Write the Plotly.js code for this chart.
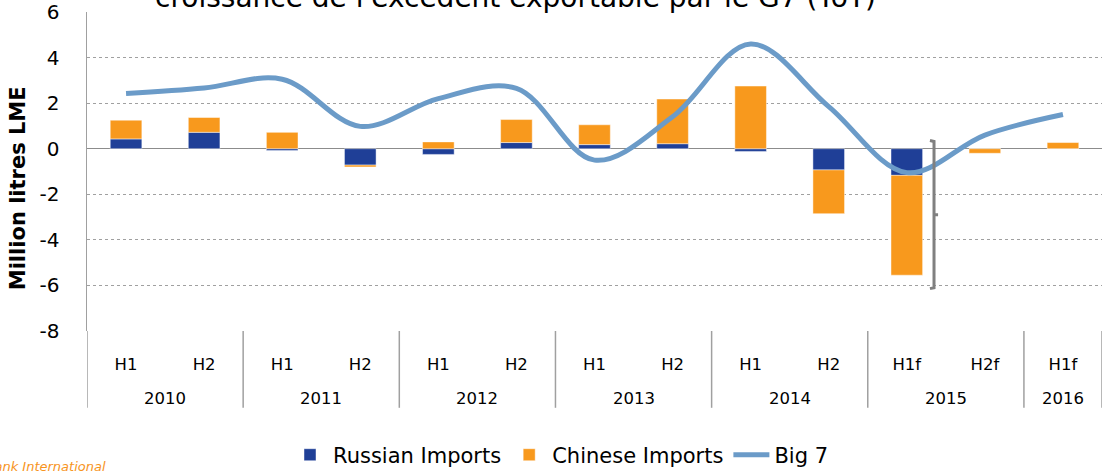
<!DOCTYPE html>
<html>
<head>
<meta charset="utf-8">
<script src="https://cdn.plot.ly/plotly-3.0.1.min.js"></script>
<style>html,body{margin:0;padding:0;background:#fff;}#chart{width:1102px;height:476px;}</style>
</head>
<body>
<div id="chart"></div>
<script>
const years   = ['2010','2010','2011','2011','2012','2012','2013','2013','2014','2014','2015','2015','2016'];
const halves  = ['H1','H2','H1','H2','H1','H2','H1','H2','H1','H2','H1f','H2f','H1f'];
const russianImports = [0.43, 0.72, -0.08, -0.72, -0.25, 0.27, 0.18, 0.22, -0.12, -0.93, -1.17, 0, 0];
const chineseImports = [0.82, 0.65, 0.72, -0.08, 0.30, 1.01, 0.87, 1.96, 2.75, -1.92, -4.38, -0.20, 0.27];
const big7 = [2.42, 2.66, 3.05, 0.98, 2.2, 2.65, -0.5, 1.4, 4.6, 1.85, -1.05, 0.6, 1.5];
const yTickVals = [-8, -6, -4, -2, 0, 2, 4, 6];
const yTickText = ['-8', '-6', '-4', '-2', '0', '2', '4', '6'];

const titleText = "croissance de l'excédent exportable par le G7 (YoY)";
const yTitleText = 'Million litres LME';
const sourceText = 'Rabobank International';

const FONT = 'DejaVu Sans, Verdana, sans-serif';
const PLOT_L = 87, PLOT_B = 336, PLOT_H = 324, PLOT_W = 1015;
const px2py = p => (PLOT_B - p) / PLOT_H;   // pixel row -> paper y
const px2px = p => (p - PLOT_L) / PLOT_W;   // pixel col -> paper x

const idx = halves.map((_, i) => i);

// year groups
const groups = [];
years.forEach((y, i) => {
  const g = groups[groups.length - 1];
  if (g && g.year === y) g.end = i; else groups.push({year: y, start: i, end: i});
});

const traces = [
  {type:'bar', name:'Russian Imports', x:idx, y:russianImports,
   marker:{color:'#1f3f97', line:{color:'rgba(255,255,255,0.45)', width:1}}},
  {type:'bar', name:'Chinese Imports', x:idx, y:chineseImports,
   marker:{color:'#f8991d', line:{color:'rgba(255,255,255,0.45)', width:1}}},
  {type:'scatter', mode:'lines', name:'Big 7', x:idx, y:big7,
   line:{color:'#6b9bc8', width:5, shape:'spline', smoothing:1}}
];

const shapes = [
  {type:'path', xref:'paper', yref:'y',
   path:'M 0.8305,0.36 L 0.8345,0.32 L 0.8345,-6.1 L 0.8305,-6.14 M 0.8345,-2.9 L 0.8385,-2.9',
   line:{color:'#808080', width:3}}
];
const boundaries = [groups[0].start - 0.5].concat(groups.map(g => g.end + 0.5));
boundaries.forEach(b => shapes.push({type:'line', xref:'x', yref:'paper', x0:b, x1:b,
  y0:0, y1:px2py(414), line:{color:'#a0a0a0', width:1.5}}));

const annotations = groups.map(g => ({
  text:g.year, xref:'x', yref:'paper', x:(g.start + g.end) / 2, y:px2py(405),
  xanchor:'center', yanchor:'middle', showarrow:false,
  font:{size:16.5, family:FONT, color:'#000'}}));
annotations.push({text:titleText, xref:'paper', yref:'paper', x:px2px(515), y:px2py(16),
  xanchor:'center', yanchor:'bottom', showarrow:false,
  font:{size:28, family:FONT, color:'#000'}});
annotations.push({text:'<b>' + yTitleText + '</b>', xref:'paper', yref:'paper',
  x:px2px(18), y:px2py(191), xanchor:'center', yanchor:'middle', textangle:-90, showarrow:false,
  font:{size:21, family:FONT, color:'#000'}});
annotations.push({text:'<i>' + sourceText + '</i>', xref:'paper', yref:'paper', x:px2px(108), xanchor:'right',
  y:px2py(474), yanchor:'middle', showarrow:false, font:{size:13, family:FONT, color:'#f7941d'}});

const layout = {
  width:1102, height:476,
  margin:{l:PLOT_L, r:0, t:12, b:140},
  paper_bgcolor:'#fff', plot_bgcolor:'#fff',
  font:{family:FONT, color:'#000'},
  barmode:'relative', bargap:0.595,
  showlegend:true,
  xaxis:{type:'linear', range:[-0.5, halves.length - 0.5], tickvals:idx, ticktext:halves,
         showgrid:false, showline:false, zeroline:false,
         ticks:'outside', ticklen:18, tickcolor:'rgba(0,0,0,0)',
         tickfont:{size:16.5, family:FONT, color:'#000'}},
  yaxis:{range:[-8,6], tickvals:yTickVals, ticktext:yTickText, showgrid:true, gridcolor:'#a0a0a0', griddash:'dot', gridwidth:1,
         zeroline:true, zerolinecolor:'#8c8c8c', zerolinewidth:1.5,
         showline:true, linecolor:'#a0a0a0', linewidth:1.5,
         ticks:'', ticklabelstandoff:22, tickfont:{size:20, family:FONT, color:'#000'}},
  legend:{orientation:'h', x:px2px(560), xanchor:'center', y:px2py(462), yanchor:'middle',
          font:{size:21, family:FONT, color:'#000'}, traceorder:'normal', itemwidth:36},
  shapes:shapes,
  annotations:annotations
};

Plotly.newPlot('chart', traces, layout, {displayModeBar:false, staticPlot:true});
</script>
</body>
</html>
